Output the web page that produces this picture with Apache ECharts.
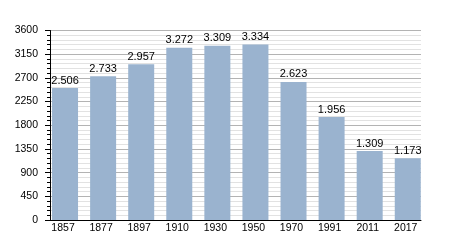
<!DOCTYPE html>
<html><head><meta charset="utf-8">
<script src="https://cdn.jsdelivr.net/npm/echarts@6/dist/echarts.min.js"></script>
<style>html,body{margin:0;padding:0;background:#fff}#c{width:450px;height:250px}</style>
</head><body><div id="c"></div>
<script>
const categories = ['1857','1877','1897','1910','1930','1950','1970','1991','2011','2017'];
const population = [2506, 2733, 2957, 3272, 3309, 3334, 2623, 1956, 1309, 1173];
const yMin = 0, yMax = 3600, yStep = 450;

function fmt(v){ const s = String(v); return s.length > 3 ? s.slice(0, s.length-3) + '.' + s.slice(-3) : s; }

const font = 'Liberation Sans, Arial, sans-serif';
const chart = echarts.init(document.getElementById('c'), null, {renderer:'canvas'});
chart.setOption({
  animation: false,
  backgroundColor: '#fff',
  grid: [
    {left: 50, right: 29, top: 30.5, bottom: 30},
    {left: 46, right: 23.2, top: 30.5, bottom: 30}
  ],
  xAxis: [
    {gridIndex: 0, type: 'category', data: categories, boundaryGap: true, z: 5,
     axisLine: {show: true, lineStyle: {color: '#000', width: 1}},
     axisTick: {show: false}, axisLabel: {show: false}, splitLine: {show: false}},
    {gridIndex: 1, type: 'category', data: categories, boundaryGap: true,
     axisLine: {show: false}, axisTick: {show: false}, splitLine: {show: false},
     axisLabel: {color: '#000', fontSize: 10.5, fontFamily: font, margin: 3, padding: [0, 4, 0, 0]}}
  ],
  yAxis: [
    {gridIndex: 0, type: 'value', min: yMin, max: yMax, interval: yStep,
     axisLine: {show: true, lineStyle: {color: '#000', width: 1}},
     axisTick: {show: true, length: 5, lineStyle: {color: '#000'}},
     minorTick: {show: true, splitNumber: 5, length: 3, lineStyle: {color: '#000'}},
     splitLine: {show: true, lineStyle: {color: '#b3b3b3', width: 1}},
     minorSplitLine: {show: true, lineStyle: {color: '#e2e2e2', width: 1}},
     axisLabel: {color: '#000', fontSize: 10.5, fontFamily: font, margin: 12, formatter: v => String(v)}},
    {gridIndex: 1, type: 'value', min: yMin, max: yMax, interval: yStep, show: false,
     splitLine: {show: false}}
  ],
  series: [{
    type: 'bar', xAxisIndex: 1, yAxisIndex: 1, data: population, barWidth: 26,
    itemStyle: {color: '#9ab3cf'},
    label: {show: true, position: 'top', distance: 2, color: '#000', fontSize: 11,
            fontFamily: font, formatter: p => fmt(p.value)}
  }]
});
</script></body></html>
